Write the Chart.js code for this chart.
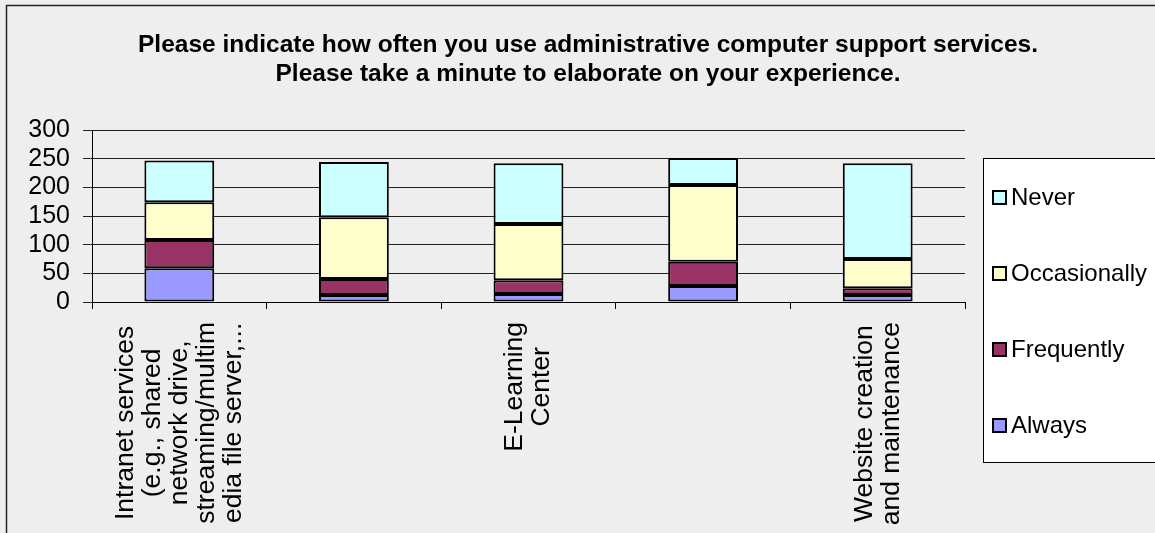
<!DOCTYPE html>
<html>
<head>
<meta charset="utf-8">
<title>Administrative computer support services</title>
<script src="https://cdn.jsdelivr.net/npm/chart.js"></script>
<style>
  html, body { margin: 0; padding: 0; background: #eeeeee; }
  #wrap { width: 1155px; height: 533px; }
</style>
</head>
<body>
<div id="wrap"><canvas id="usageChart" width="1155" height="533"></canvas></div>
<script>
// survey answers per service (stacked, bottom to top: Always .. Never)
const categories = [
  ['Intranet services', '(e.g., shared', 'network drive,', 'streaming/multim', 'edia file server,...'],
  '',
  ['E-Learning', 'Center'],
  '',
  ['Website creation', 'and maintenance']
];
const always = [59, 12, 14, 28, 12];
const frequently = [49, 28, 24, 42, 12];
const occasionally = [66, 108, 98, 134, 51];
const never = [73, 96, 106, 47, 167];
const yTicks = [0, 50, 100, 150, 200, 250, 300];

const titleLines = [
  'Please indicate how often you use administrative computer support services.',
  'Please take a minute to elaborate on your experience.'
];

const FONT = 'Arial, "Liberation Sans", sans-serif';

// background, frame, title, category labels and the boxed legend
const decorations = {
  id: 'decorations',
  beforeDraw(chart) {
    const ctx = chart.ctx;
    ctx.save();
    ctx.fillStyle = '#eeeeee';
    ctx.fillRect(0, 0, chart.width, chart.height);
    ctx.strokeStyle = '#222';
    ctx.lineWidth = 1.5;
    ctx.strokeRect(6.5, 5.5, chart.width + 20, chart.height + 20);
    ctx.restore();
  },
  afterDraw(chart) {
    const ctx = chart.ctx;
    const area = chart.chartArea;
    ctx.save();

    // title
    ctx.fillStyle = '#000';
    ctx.font = 'bold 24.5px ' + FONT;
    ctx.textAlign = 'center';
    ctx.textBaseline = 'middle';
    titleLines.forEach((line, i) => ctx.fillText(line, 588, 45 + i * 29));

    // rotated, centred multi-line category labels
    const xScale = chart.scales.x;
    ctx.font = '26.5px ' + FONT;
    categories.forEach((label, i) => {
      if (!label) return;
      const lines = Array.isArray(label) ? label : [label];
      const maxW = Math.max(...lines.map(l => ctx.measureText(l).width));
      const cx = xScale.getPixelForValue(i);
      const cy = area.bottom + 20 + maxW / 2;
      const lh = 27;
      lines.forEach((line, j) => {
        ctx.save();
        ctx.translate(cx + (j - (lines.length - 1) / 2) * lh, cy);
        ctx.rotate(-Math.PI / 2);
        ctx.fillText(line, 0, 0);
        ctx.restore();
      });
    });

    // legend box, series listed top-down from Never to Always
    const boxX = area.right + 18, boxY = 158;
    ctx.fillStyle = '#fff';
    ctx.fillRect(boxX, boxY, 200, 304);
    ctx.strokeStyle = '#000';
    ctx.lineWidth = 1;
    ctx.strokeRect(boxX + 0.5, boxY + 0.5, 200, 304);
    ctx.font = '24px ' + FONT;
    ctx.textAlign = 'left';
    const sets = chart.data.datasets.slice().reverse();
    sets.forEach((ds, k) => {
      const y = boxY + 39 + k * 76;
      ctx.fillStyle = ds.backgroundColor;
      ctx.fillRect(boxX + 10, y - 6, 13, 13);
      ctx.lineWidth = 2;
      ctx.strokeStyle = '#000';
      ctx.strokeRect(boxX + 10, y - 6, 13, 13);
      ctx.fillStyle = '#000';
      ctx.fillText(ds.label, boxX + 28, y + 1);
    });
    ctx.restore();
  }
};

function series(label, data, color) {
  return {
    label: label,
    data: data,
    backgroundColor: color,
    borderColor: '#000',
    borderWidth: 2,
    borderSkipped: false,
    barPercentage: 0.4,
    categoryPercentage: 1
  };
}

new Chart(document.getElementById('usageChart'), {
  type: 'bar',
  data: {
    labels: categories,
    datasets: [
      series('Always', always, '#9999ff'),
      series('Frequently', frequently, '#993366'),
      series('Occasionally', occasionally, '#ffffcc'),
      series('Never', never, '#ccffff')
    ]
  },
  plugins: [decorations],
  options: {
    responsive: false,
    animation: false,
    layout: { padding: { top: 130, right: 190, left: 0, bottom: 0 } },
    plugins: {
      legend: { display: false },
      title: { display: false },
      tooltip: { enabled: false }
    },
    scales: {
      x: {
        stacked: true,
        afterFit(scale) { scale.height = 231; },
        ticks: { display: false },
        grid: {
          offset: true,
          drawOnChartArea: false,
          drawTicks: true,
          tickLength: 7,
          color: '#000'
        },
        border: { color: '#000', width: 1 }
      },
      y: {
        stacked: true,
        min: 0,
        max: 300,
        afterFit(scale) { scale.width = 92; },
        afterBuildTicks(scale) { scale.ticks = yTicks.map(v => ({ value: v })); },
        ticks: {
          color: '#000',
          padding: 13,
          autoSkip: false,
          font: { family: FONT, size: 25 }
        },
        grid: { color: '#222', tickLength: 9, lineWidth: 1 },
        border: { color: '#000', width: 1 }
      }
    }
  }
});
</script>
</body>
</html>
